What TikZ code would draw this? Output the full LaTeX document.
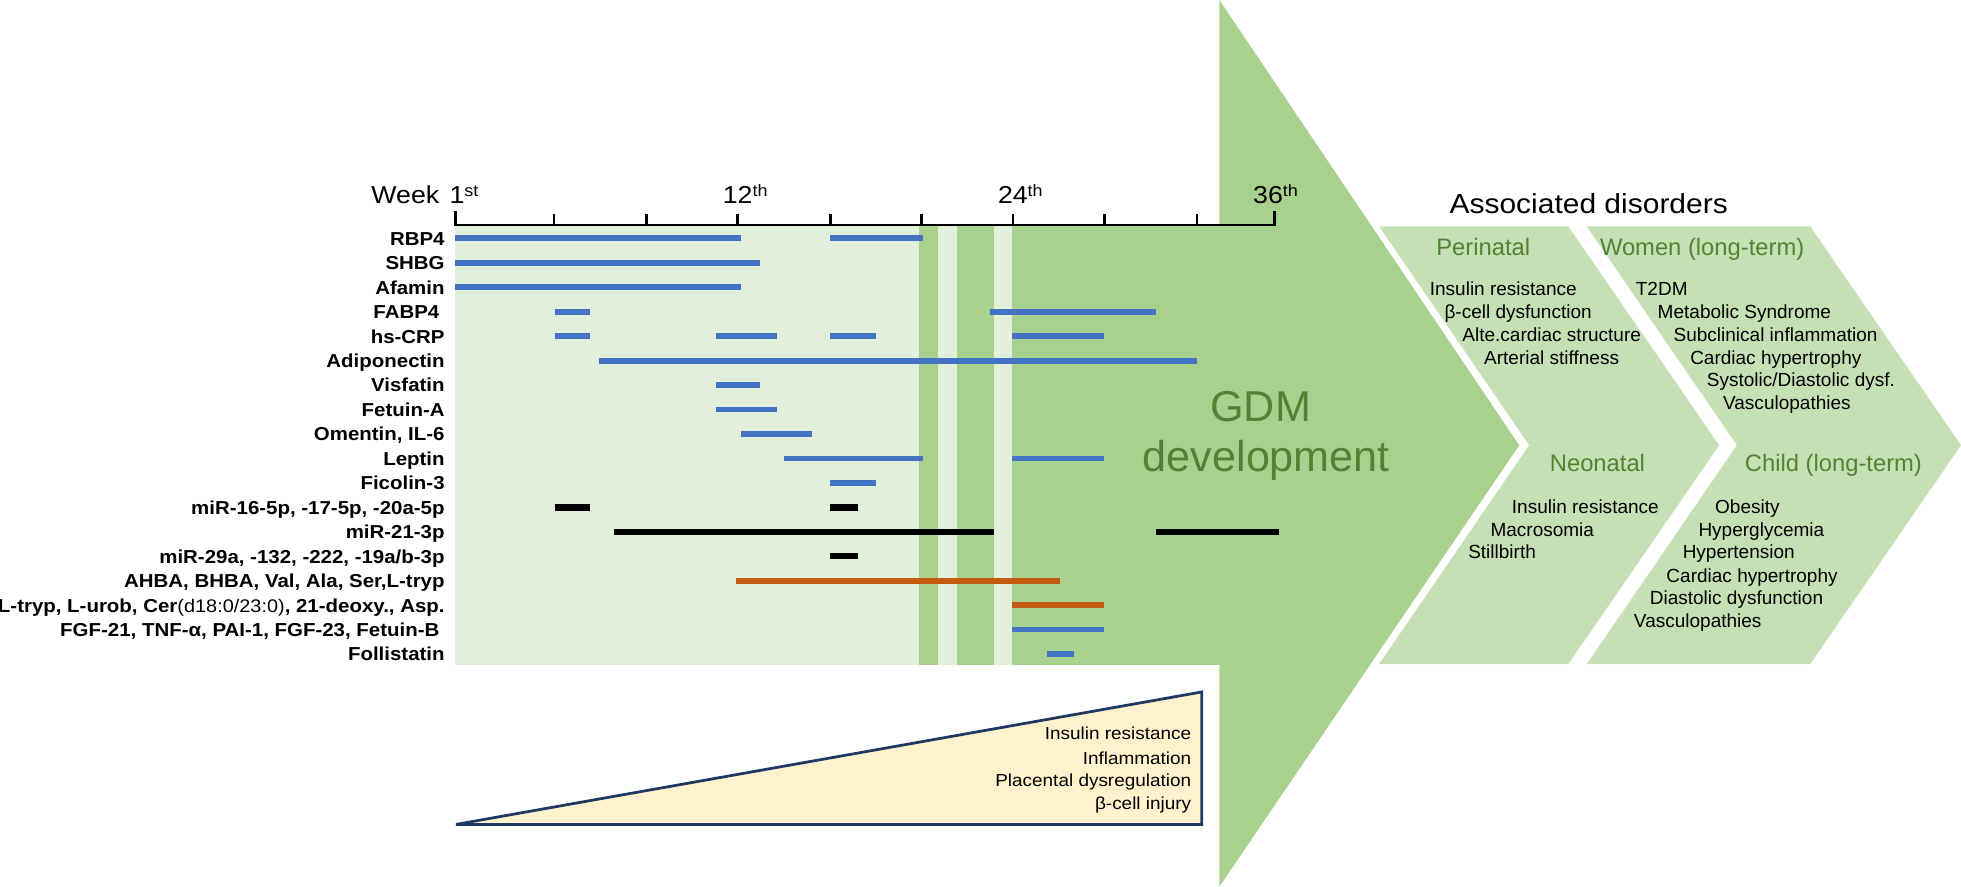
\documentclass[tikz,border=0pt]{standalone}
\usepackage{fontspec}
\setmainfont{Liberation Sans}
\newfontfamily\wideSans{Liberation Sans}[FakeStretch=1.09]
\definecolor{darkg}{HTML}{A9D18E}
\definecolor{lightg}{HTML}{E2EFDA}
\definecolor{chev}{HTML}{C5E0B4}
\definecolor{headg}{HTML}{548235}
\definecolor{navy}{HTML}{203864}
\definecolor{paleyel}{HTML}{FFF2CC}
\definecolor{barblue}{HTML}{4472C4}
\definecolor{barorange}{HTML}{C55A11}
\newcommand\myLbl{\wideSans\fontsize{15}{18}\selectfont\bfseries}
\newcommand\myItem{\fontsize{15.2}{18}\selectfont}
\newcommand\myTri{\wideSans\fontsize{13.9}{18}\selectfont}
\newcommand\myHead{\fontsize{19}{22}\selectfont}
\newcommand\myAx{\wideSans\fontsize{19.6}{22}\selectfont}
\newcommand\mySup[1]{\raisebox{5.6pt}{\fontsize{13.2}{13}\selectfont #1}}
\tikzset{
 txt/.style={inner sep=0pt, outer sep=0pt},
 lbl/.style={txt, anchor=base east, font=\myLbl},
 itm/.style={txt, anchor=base west, font=\myItem},
 tri/.style={txt, anchor=base east, font=\myTri},
 hd/.style={txt, anchor=base, font=\myHead, text=headg},
 ax/.style={txt, anchor=base west, font=\myAx},
 bb/.style={barblue, line width=4.6pt},
 bk/.style={black, line width=5.2pt},
 bo/.style={barorange, line width=4.6pt},
}
\begin{document}
\begin{tikzpicture}[x=1pt,y=-1pt]
\useasboundingbox (0,0) rectangle (1568,709);
% big arrow
\fill[darkg] (975,0) -- (1214.7,356) -- (975,709) -- cycle;
% chart background and bands
\fill[lightg] (364,181) rectangle (975.5,532);
\fill[darkg] (734.7,181) rectangle (749.7,532);
\fill[darkg] (764.8,181) rectangle (794.8,532);
\fill[darkg] (809.4,181) rectangle (976,532);
% chevrons
\fill[chev] (1102.7,181) -- (1254,181) -- (1374.6,356) -- (1254,531) -- (1102.7,531) -- (1222.7,356) -- cycle;
\fill[chev] (1268.7,181) -- (1447.4,181) -- (1568,356) -- (1447.4,531) -- (1268.7,531) -- (1388.8,356) -- cycle;
% axis
\draw[line width=2.2pt] (364,169) -- (364,180) -- (1019,180) -- (1019,169);
\foreach \t in {443,517,589.5,664,737,810,883,957} \draw[line width=2pt] (\t,180) -- (\t,171);
\node[ax] (wk) at (297,162.7) {Week};
\node[ax] (w1) at (359.5,162.7) {1\mySup{st}};
\node[ax] (w12) at (578,162.7) {12\mySup{th}};
\node[ax] (w24) at (798,162.7) {24\mySup{th}};
\node[ax] (w36) at (1002,162.7) {36\mySup{th}};
% bars
\foreach \r/\a/\b/\s in {
 0/364/592.4/bb, 0/663.8/737.7/bb,
 1/364/607.7/bb,
 2/364/592.4/bb,
 3/443.5/472/bb, 3/791.8/924.4/bb,
 4/443.5/472/bb, 4/572.6/621.5/bb, 4/663.7/700.7/bb, 4/809/882.6/bb,
 5/478.8/957/bb,
 6/572.6/608/bb,
 7/572.6/621.5/bb,
 8/592.4/649/bb,
 9/626.6/737.7/bb, 9/809/882.6/bb,
 10/663.7/700.7/bb,
 11/443.5/472/bk, 11/663.7/685.7/bk,
 12/491/794.8/bk, 12/924.4/1023/bk,
 13/663.7/685.7/bk,
 14/588.4/847.3/bo,
 15/809/882.6/bo,
 16/809/882.6/bb,
 17/837/858.5/bb}
 \draw[\s] (\a,{190.6+19.55*\r}) -- (\b,{190.6+19.55*\r});
% row labels
\node[lbl] (l0) at (355.5,196.1) {RBP4};
\node[lbl] (l1) at (355.5,215.65) {SHBG};
\node[lbl] (l2) at (355.5,235.2) {Afamin};
\node[lbl] (l3) at (355.5,254.75) {FABP4\kern0.28em};
\node[lbl] (l4) at (355.5,274.3) {hs-CRP};
\node[lbl] (l5) at (355.5,293.85) {Adiponectin};
\node[lbl] (l6) at (355.5,313.4) {Visfatin};
\node[lbl] (l7) at (355.5,332.95) {Fetuin-A};
\node[lbl] (l8) at (355.5,352.5) {Omentin, IL-6};
\node[lbl] (l9) at (355.5,372.05) {Leptin};
\node[lbl] (l10) at (355.5,391.6) {Ficolin-3};
\node[lbl] (l11) at (355.5,411.15) {miR-16-5p, -17-5p, -20a-5p};
\node[lbl] (l12) at (355.5,430.7) {miR-21-3p};
\node[lbl] (l13) at (355.5,450.25) {miR-29a, -132, -222, -19a/b-3p};
\node[lbl] (l14) at (355.5,469.8) {AHBA, BHBA, Val, Ala, Ser,L-tryp};
\node[lbl] (l15) at (355.5,489.35) {L-tryp, L-urob, Cer{\mdseries\fontsize{14.6}{16}\selectfont(d18:0/23:0)}, 21-deoxy., Asp.};
\node[lbl] (l16) at (355.5,508.9) {FGF-21, TNF-α, PAI-1, FGF-23, Fetuin-B\kern0.28em};
\node[lbl] (l17) at (355.5,528.45) {Follistatin};
% triangle
\draw[navy, line width=2.2pt, fill=paleyel] (364.6,659.2) -- (960.8,553.3) -- (960.8,659.2) -- cycle;
\node[tri] (tr1) at (952.5,591.6) {Insulin resistance};
\node[tri] (tr2) at (952.5,610.9) {Inflammation};
\node[tri] (tr3) at (952.5,629) {Placental dysregulation};
\node[tri] (tr4) at (952.5,647) {β-cell injury};
% GDM text
\node[txt, anchor=base, font=\fontsize{34.5}{40}\selectfont, text=headg] (gdm) at (1008,337.3) {GDM};
\node[txt, anchor=base, font=\fontsize{34.5}{40}\selectfont, text=headg] (dev) at (1012.6,377.3) {development};
% associated disorders
\node[txt, anchor=base west, font=\wideSans\fontsize{22}{26}\selectfont] (assoc) at (1159,170.7) {Associated disorders};
\node[hd] (peri) at (1186,204.5) {Perinatal};
\node[hd] (neo) at (1277.3,377.3) {Neonatal};
\node[hd] (women) at (1361,204.5) {Women (long-term)};
\node[hd] (child) at (1466,377.3) {Child (long-term)};
\node[itm] (p1) at (1143.3,236.1) {Insulin resistance};
\node[itm] (p2) at (1155,254.7) {β-cell dysfunction};
\node[itm] (p3) at (1169.3,273.4) {Alte.cardiac structure};
\node[itm] (p4) at (1186.7,291.5) {Arterial stiffness};
\node[itm] (n1) at (1208.9,410.7) {Insulin resistance};
\node[itm] (n2) at (1191.8,428.6) {Macrosomia};
\node[itm] (n3) at (1174,446.7) {Stillbirth};
\node[itm] (w1i) at (1308,236.1) {T2DM};
\node[itm] (w2i) at (1325.5,254.7) {Metabolic Syndrome};
\node[itm] (w3i) at (1338.2,273.4) {Subclinical inflammation};
\node[itm] (w4i) at (1351.5,291.5) {Cardiac hypertrophy};
\node[itm] (w5i) at (1364.8,309.4) {Systolic/Diastolic dysf.};
\node[itm] (w6i) at (1377.8,327.5) {Vasculopathies};
\node[itm] (c1) at (1371.4,410.2) {Obesity};
\node[itm] (c2) at (1358.1,428.6) {Hyperglycemia};
\node[itm] (c3) at (1345.5,446.7) {Hypertension};
\node[itm] (c4) at (1332.5,465.4) {Cardiac hypertrophy};
\node[itm] (c5) at (1319.2,483.5) {Diastolic dysfunction};
\node[itm] (c6) at (1306.5,501.4) {Vasculopathies};
\end{tikzpicture}
\end{document}
